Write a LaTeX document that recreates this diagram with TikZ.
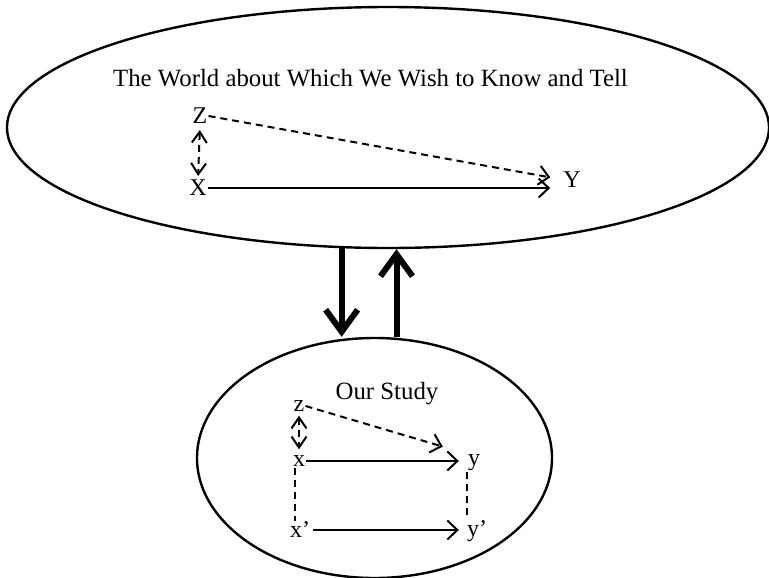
\documentclass[tikz,border=0pt]{standalone}
\usepackage{fontspec}
\setmainfont{Liberation Serif}
\usetikzlibrary{arrows.meta, positioning, shapes.geometric}

\begin{document}
\begin{tikzpicture}[
    x=1pt, y=-1pt,
    circ/.style={ellipse, draw, line width=2.4pt, inner sep=0pt},
    lbl/.style={inner sep=1pt, font=\fontsize{24}{27}\selectfont},
    heading/.style={inner sep=0pt, anchor=base, font=\fontsize{24.8}{28}\selectfont},
    arrow/.style={-{Straight Barb[length=10pt, width=19pt]}, line width=2pt},
    darrow/.style={arrow, dash pattern=on 7pt off 5pt},
    barrow/.style={{Straight Barb[length=11pt, width=15pt]}-{Straight Barb[length=11pt, width=15pt]}, line width=2pt, dash pattern=on 7pt off 5pt},
    dline/.style={line width=1.5pt, dash pattern=on 7pt off 5pt},
    bigarrow/.style={-{Straight Barb[length=22pt, width=32pt]}, line width=6pt}
  ]
    \useasboundingbox (0,0) rectangle (769,578);

    % the two worlds
    \node[circ, minimum width=762pt, minimum height=241pt] (world) at (388,127.5) {};
    \node[circ, minimum width=355pt, minimum height=240pt] (study) at (374.5,458) {};

    % upper: the world
    \node[heading] (worldtitle) at (370.5,87) {The World about Which We Wish to Know and Tell};
    \node[lbl] (Z) at (200,116) {Z};
    \node[lbl] (X) at (198,188) {X};
    \node[lbl] (Y) at (572,179.5) {Y};

    \draw[darrow, shorten >=12pt] (Z.east) -- (Y.west);
    \draw[barrow, shorten <=5pt, shorten >=3pt] (Z.south) -- (X.north);
    \draw[arrow, shorten >=12pt] (X.east) -- (X.east -| Y.west);

    % lower: our study
    \node[heading] (studytitle) at (387,399) {Our Study};
    \node[lbl] (z) at (299,406) {z};
    \node[lbl] (x) at (299,461) {x};
    \node[lbl] (y) at (474,463) {y};
    \node[lbl] (xp) at (300,530) {x’};
    \node[lbl] (yp) at (477,531) {y’};

    \draw[darrow, shorten >=25pt] (z.east) -- (y.north west);
    \draw[barrow, shorten <=3pt, shorten >=5pt] (z.south) -- (x.north);
    \draw[arrow, shorten >=8pt] (x.east) -- (x.east -| y.west);
    \draw[arrow, shorten <=2pt, shorten >=7pt] (xp.east) -- (xp.east -| yp.west);
    \draw[dline] ([xshift=-4pt]x.south) -- ([xshift=-4pt]x.south |- xp.north);
    \draw[dline] ([xshift=-7pt]y.south) -- ([xshift=-7pt]y.south |- yp.north);

    % between them
    \draw[bigarrow] (world.249) -- (world.249 |- study.north);
    \draw[bigarrow] (study.north -| world.274) -- (world.274);

  \end{tikzpicture}
\end{document}
